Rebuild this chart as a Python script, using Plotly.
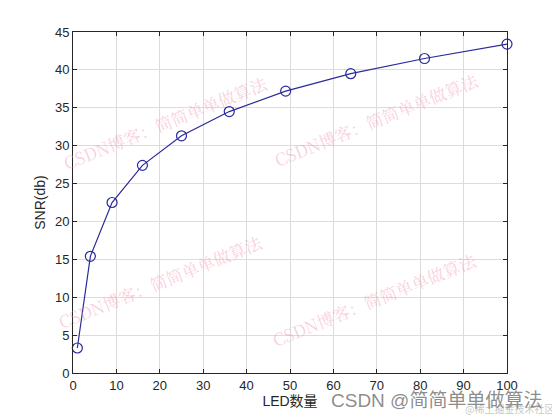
import plotly.graph_objects as go

led_count = [1, 4, 9, 16, 25, 36, 49, 64, 81, 100]
snr_db = [3.3, 15.4, 22.5, 27.4, 31.3, 34.5, 37.2, 39.5, 41.5, 43.4]
x_ticks = list(range(0, 101, 10))
y_ticks = list(range(0, 46, 5))

# page offset of the html body (8px default margin)
OFF = 8
W, H = 560, 420
# desired plot area in page pixels
PX0, PX1, PY0, PY1 = 73, 507, 32, 373
L = PX0 - OFF
T = PY0 - OFF
R = (W + OFF) - PX1
B = (H + OFF) - PY1

def px(x):
    return (x - PX0) / (PX1 - PX0)

def py(y):
    return 1 - (y - PY0) / (PY1 - PY0)

fig = go.Figure()
fig.add_trace(go.Scatter(
    x=led_count, y=snr_db, mode="lines+markers",
    line=dict(color="#2a2a9a", width=1.2),
    marker=dict(symbol="circle-open", size=10, color="#2a2a9a", line=dict(width=1.2)),
    showlegend=False, cliponaxis=False,
))

axis_common = dict(
    showgrid=True, gridcolor="#dcdcdc", gridwidth=1,
    showline=True, linecolor="#262626", linewidth=1, mirror="ticks",
    ticks="inside", ticklen=4, tickcolor="#262626",
    tickfont=dict(family="Liberation Sans, Arial", size=13, color="#262626"),
    zeroline=False,
)
fig.update_xaxes(range=[0, 100], tickvals=x_ticks,
                 title=dict(text="LED数量", font=dict(family="Liberation Sans, Noto Sans CJK SC", size=14, color="#262626"), standoff=4),
                 **axis_common)
fig.update_yaxes(range=[0, 45], tickvals=y_ticks,
                 title=dict(text="SNR(db)", font=dict(family="Liberation Sans, Arial", size=14, color="#262626"), standoff=6),
                 **axis_common)

wm = "CSDN博客：简简单单做算法"
wm_pos = [(165, 122), (376, 119), (160, 281), (374, 299)]
for (x0, y0) in wm_pos:
    fig.add_annotation(text=wm, xref="paper", yref="paper", x=px(x0), y=py(y0),
                       showarrow=False, textangle=-22,
                       font=dict(family="Noto Serif CJK SC, Noto Sans CJK SC", size=17, color="rgba(240,150,175,0.45)"),
                       xanchor="center", yanchor="middle")

fig.add_annotation(text="CSDN @简简单单做算法", xref="paper", yref="paper",
                   x=px(544), y=py(400),
                   showarrow=False, xanchor="right", yanchor="middle",
                   font=dict(family="Liberation Sans, Noto Sans CJK SC", size=19, color="rgba(120,120,120,0.85)"))
fig.add_annotation(text="@稀土掘金技术社区", xref="paper", yref="paper",
                   x=px(556), y=py(409),
                   showarrow=False, xanchor="right", yanchor="middle",
                   font=dict(family="Noto Sans CJK SC", size=10, color="rgba(160,160,160,0.6)"))

fig.update_layout(
    width=W, height=H,
    margin=dict(l=L, r=R, t=T, b=B),
    paper_bgcolor="white", plot_bgcolor="white",
)

fig.write_html("out.html")
